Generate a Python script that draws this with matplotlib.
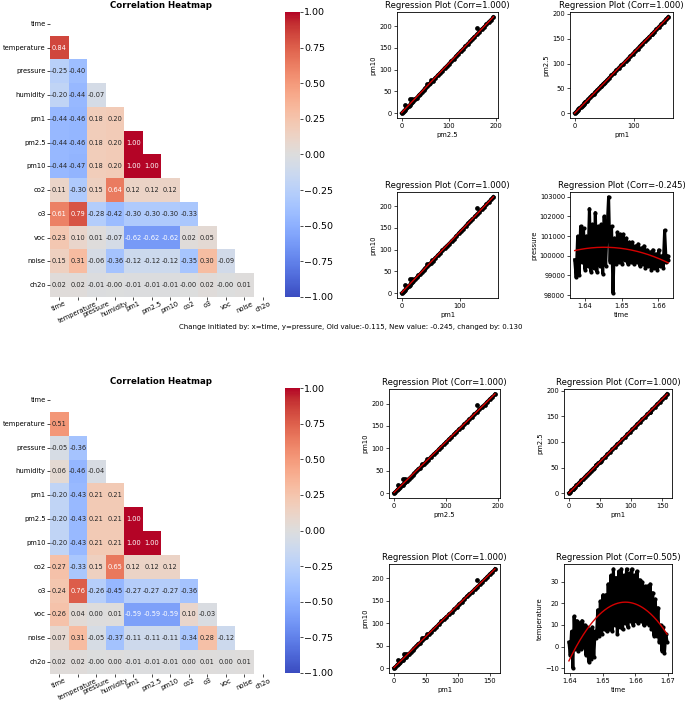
import numpy as np
import matplotlib
matplotlib.use("Agg")
import matplotlib.pyplot as plt
import seaborn as sns

W, H = 685, 703

variables = ['time', 'temperature', 'pressure', 'humidity', 'pm1', 'pm2.5',
             'pm10', 'co2', 'o3', 'voc', 'noise', 'ch2o']

# lower triangle of the correlation matrix, row by row (starting at temperature)
corr_before = [
    [0.84],
    [-0.25, -0.40],
    [-0.20, -0.44, -0.07],
    [-0.44, -0.46, 0.18, 0.20],
    [-0.44, -0.46, 0.18, 0.20, 1.00],
    [-0.44, -0.47, 0.18, 0.20, 1.00, 1.00],
    [0.11, -0.30, 0.15, 0.64, 0.12, 0.12, 0.12],
    [0.61, 0.79, -0.28, -0.42, -0.30, -0.30, -0.30, -0.33],
    [0.23, 0.10, 0.01, -0.07, -0.62, -0.62, -0.62, 0.02, 0.05],
    [0.15, 0.31, -0.06, -0.36, -0.12, -0.12, -0.12, -0.35, 0.30, -0.09],
    [0.02, 0.02, -0.01, -0.001, -0.01, -0.01, -0.01, -0.001, 0.02, -0.001, 0.01],
]

corr_after = [
    [0.51],
    [-0.05, -0.36],
    [0.06, -0.46, -0.04],
    [-0.20, -0.43, 0.21, 0.21],
    [-0.20, -0.43, 0.21, 0.21, 1.00],
    [-0.20, -0.43, 0.21, 0.21, 1.00, 1.00],
    [0.27, -0.33, 0.15, 0.65, 0.12, 0.12, 0.12],
    [0.24, 0.76, -0.26, -0.45, -0.27, -0.27, -0.27, -0.36],
    [0.26, 0.04, 0.00, 0.01, -0.59, -0.59, -0.59, 0.10, -0.03],
    [0.07, 0.31, -0.05, -0.37, -0.11, -0.11, -0.11, -0.34, 0.28, -0.12],
    [0.02, 0.02, -0.001, 0.00, -0.01, -0.01, -0.01, 0.00, 0.01, 0.00, 0.01],
]

cbar_ticks = [-1.0, -0.75, -0.5, -0.25, 0.0, 0.25, 0.5, 0.75, 1.0]

# particulate matter readings (same samples in all pm plots)
pm1 = [0, 2, 4, 6, 8, 10, 12, 14, 16, 18, 20, 23, 26, 29, 32, 35, 38, 41, 44, 47,
       50, 54, 58, 62, 66, 70, 74, 78, 82, 86, 90, 94, 98, 102, 106, 110, 114, 118,
       122, 126, 130, 134, 138, 142, 146, 150, 154, 158,
       6, 15, 18, 44, 52, 130]
pm25 = [0, 2, 5, 7, 10, 12, 15, 17, 20, 22, 25, 28, 32, 36, 39, 43, 47, 50, 54, 58,
        61, 66, 71, 76, 81, 86, 91, 96, 100, 105, 110, 115, 120, 125, 130, 135, 140, 145,
        149, 154, 159, 164, 169, 174, 179, 184, 189, 194,
        8, 18, 22, 54, 63, 159]
pm10 = [0, 2, 6, 8, 11, 14, 17, 19, 23, 25, 28, 32, 36, 41, 44, 49, 54, 57, 62, 66,
        70, 75, 81, 87, 92, 98, 104, 109, 114, 120, 125, 131, 137, 143, 148, 154, 160, 165,
        170, 176, 181, 187, 193, 198, 204, 210, 215, 221,
        18, 32, 32, 66, 76, 196]

# pressure against time (before the change)
p_time = [1.6373, 1.6377, 1.6381, 1.6385, 1.6389, 1.6393, 1.6397, 1.6401, 1.6405, 1.6409,
          1.6413, 1.6417, 1.6421, 1.6425, 1.6429, 1.6433, 1.6437, 1.6441, 1.6445, 1.6449,
          1.6453, 1.6457, 1.6461, 1.6465, 1.6469, 1.6473, 1.6477, 1.6481, 1.6485, 1.6489,
          1.6493, 1.6497, 1.6501, 1.6505, 1.6509, 1.6513, 1.6517, 1.6521, 1.6525, 1.6529,
          1.6533, 1.6537, 1.6541, 1.6545, 1.6549, 1.6553, 1.6557, 1.6561, 1.6565, 1.6569,
          1.6573, 1.6577, 1.6581, 1.6585, 1.6589, 1.6593, 1.6597, 1.6601, 1.6605, 1.6609,
          1.6613, 1.6617, 1.6621, 1.6625, 1.6627]
pressure = [99800, 98900, 101000, 99000, 101500, 99700, 101400, 99300, 101000, 99500,
            102400, 99200, 101600, 99400, 102200, 99200, 101500, 99500, 101600, 99100,
            102000, 99500, 101400, 103000, 99700, 101500, 98100, 100900, 99600, 101200,
            99700, 101100, 99600, 101100, 99800, 100900, 99600, 100700, 99700, 100700,
            99600, 100500, 99700, 100600, 99500, 100400, 99600, 100500, 99400, 100300,
            99500, 100200, 99300, 100300, 99400, 100100, 99300, 100300, 99500, 100000,
            99400, 101300, 99700, 100000, 99800]

# temperature against time (after the change)
t_time = [1.6397, 1.6401, 1.6405, 1.6409, 1.6413, 1.6417, 1.6421, 1.6425, 1.6429, 1.6433,
          1.6437, 1.6441, 1.6445, 1.6449, 1.6453, 1.6457, 1.6461, 1.6465, 1.6469, 1.6473,
          1.6477, 1.6481, 1.6485, 1.6489, 1.6493, 1.6497, 1.6501, 1.6505, 1.6509, 1.6513,
          1.6517, 1.6521, 1.6525, 1.6529, 1.6533, 1.6537, 1.6541, 1.6545, 1.6549, 1.6553,
          1.6557, 1.6561, 1.6565, 1.6569, 1.6573, 1.6577, 1.6581, 1.6585, 1.6589, 1.6593,
          1.6597, 1.6601, 1.6605, 1.6609, 1.6613, 1.6617, 1.6621, 1.6625, 1.6629, 1.6633,
          1.6637, 1.6641, 1.6645, 1.6649, 1.6653, 1.6657, 1.6661, 1.6665, 1.6669, 1.6673,
          1.6677, 1.6681, 1.6685, 1.6689, 1.6693, 1.6697]
temperature = [2, -4, 7, -10, 14, -1, 12, -2, 11, -1,
               12, 0, 10, -4, 9, -7, 8, -6, 9, -5,
               7, 4, 17, 5, 21, 6, 24, 8, 24, 7,
               29, 8, 33, 7, 36, 10, 32, 6, 35, 9,
               36, 8, 33, 11, 36, 9, 34, 12, 36, 10,
               33, 12, 35, 11, 31, 12, 30, 10, 28, 11,
               28, 10, 29, 8, 25, 5, 22, 5, 18, 2,
               10, -2, 9, -3, 6, 2]

change_text = ('Change initiated by: x=time, y=pressure, Old value:-0.115, '
               'New value: -0.245, changed by: 0.130')


def rect(x0, y0, x1, y1):
    # pixel box (top-left origin) -> figure fraction
    return [x0 / W, 1 - y1 / H, (x1 - x0) / W, (y1 - y0) / H]


def full_matrix(rows):
    m = np.eye(len(variables))
    for i, row in enumerate(rows, start=1):
        for j, v in enumerate(row):
            m[i, j] = v
            m[j, i] = v
    return m


def draw_heatmap(ax, cax, rows):
    m = full_matrix(rows)
    mask = np.triu(np.ones_like(m, dtype=bool))
    sns.heatmap(m, mask=mask, cmap='coolwarm', vmin=-1, vmax=1, annot=True, fmt='.2f',
                annot_kws={'size': 4.8}, ax=ax, cbar_ax=cax,
                xticklabels=variables, yticklabels=variables)
    ax.set_title('Correlation Heatmap', fontsize=6.2, fontweight='bold', pad=3)
    ax.tick_params(axis='y', labelsize=4.9, length=2, width=0.5, pad=1)
    ax.tick_params(axis='x', labelsize=4.8, length=2, width=0.5, pad=0.5)
    plt.setp(ax.get_xticklabels(), rotation=25)
    plt.setp(ax.get_yticklabels(), rotation=0)
    cax.set_yticks(cbar_ticks)
    cax.tick_params(labelsize=6.8, length=2, width=0.5, pad=1)


def draw_reg(ax, x, y, order, corr, xlabel, ylabel, xticks, yticks, band=False):
    x = np.asarray(x, dtype=float)
    y = np.asarray(y, dtype=float)
    if band:
        ax.plot(x, y, color='black', lw=2.2, zorder=2)
        ax.scatter(x, y, s=9, color='black', linewidths=0, zorder=2)
    else:
        ax.plot(x[:48], y[:48], color='black', lw=2.4, zorder=2)
        ax.scatter(x, y, s=12, color='black', linewidths=0, zorder=2)
    coef = np.polyfit(x, y, order)
    xs = np.linspace(x.min(), x.max(), 200)
    ax.plot(xs, np.polyval(coef, xs), color='#d40000', lw=1.0, zorder=3)
    ax.set_title('Regression Plot (Corr=%s)' % corr, fontsize=6.1, pad=3)
    ax.set_xlabel(xlabel, fontsize=4.9, labelpad=2)
    ax.set_ylabel(ylabel, fontsize=4.9, labelpad=2)
    ax.set_xticks(xticks)
    ax.set_yticks(yticks)
    ax.ticklabel_format(axis='y', useOffset=False, style='plain')
    ax.tick_params(labelsize=4.8, length=2, width=0.5, pad=1.5)
    for s in ax.spines.values():
        s.set_linewidth(0.6)


fig = plt.figure(figsize=(W / 100, H / 100), dpi=100)

# top half: before the change
ax = fig.add_axes(rect(50, 12, 272, 297))
cax = fig.add_axes(rect(285, 12, 300, 297))
draw_heatmap(ax, cax, corr_before)

pm_ticks = [0, 50, 100, 150, 200]
draw_reg(fig.add_axes(rect(397, 12, 498, 118)), pm25, pm10, 1, '1.000', 'pm2.5', 'pm10',
         [0, 100, 200], pm_ticks)
draw_reg(fig.add_axes(rect(570, 12, 673, 118)), pm1, pm25, 1, '1.000', 'pm1', 'pm2.5',
         [0, 100], pm_ticks)
draw_reg(fig.add_axes(rect(397, 192, 498, 298)), pm1, pm10, 1, '1.000', 'pm1', 'pm10',
         [0, 100], pm_ticks)
draw_reg(fig.add_axes(rect(570, 192, 673, 298)), p_time, pressure, 2, '-0.245', 'time',
         'pressure', [1.64, 1.65, 1.66], [98000, 99000, 100000, 101000, 102000, 103000],
         band=True)

fig.text(351 / W, 1 - 327 / H, change_text, ha='center', va='center', fontsize=5)

# bottom half: after the change
ax = fig.add_axes(rect(50, 388, 272, 674))
cax = fig.add_axes(rect(285, 388, 300, 673))
draw_heatmap(ax, cax, corr_after)

draw_reg(fig.add_axes(rect(389, 389, 500, 498)), pm25, pm10, 1, '1.000', 'pm2.5', 'pm10',
         [0, 100, 200], pm_ticks)
draw_reg(fig.add_axes(rect(564, 389, 672, 498)), pm1, pm25, 1, '1.000', 'pm1', 'pm2.5',
         [0, 50, 100, 150], pm_ticks)
draw_reg(fig.add_axes(rect(389, 564, 500, 673)), pm1, pm10, 1, '1.000', 'pm1', 'pm10',
         [0, 50, 100, 150], pm_ticks)
draw_reg(fig.add_axes(rect(564, 564, 672, 673)), t_time, temperature, 2, '0.505', 'time',
         'temperature', [1.64, 1.65, 1.66, 1.67], [-10, 0, 10, 20, 30], band=True)

fig.savefig('out.png', dpi=100)
